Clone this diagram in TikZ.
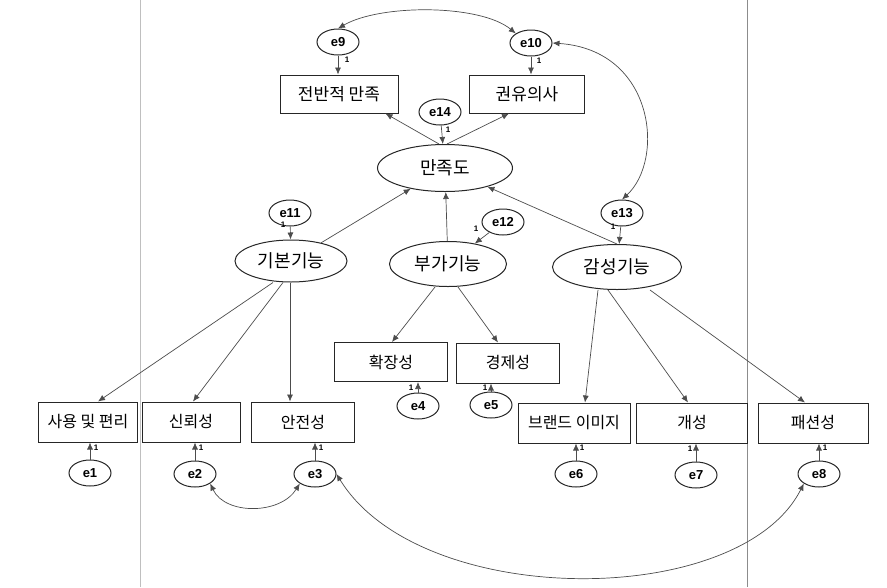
\documentclass[tikz,border=0pt]{standalone}
\usepackage{fontspec}
\setmainfont{Noto Sans CJK KR}
\newfontfamily\efont{Liberation Sans}
\usetikzlibrary{arrows.meta,shapes.geometric}
\begin{document}
\begin{tikzpicture}[x=1pt,y=-1pt,
  obs/.style={draw=black!85, line width=1pt, minimum height=38pt, inner sep=2pt, font=\fontsize{16}{18}\selectfont},
  lat/.style={ellipse, draw=black!85, line width=1pt, inner sep=0pt, font=\fontsize{18}{20}\selectfont},
  err/.style={ellipse, draw=black!85, line width=1pt, inner sep=0pt, minimum width=42pt, minimum height=26pt, font=\efont\bfseries\fontsize{13}{14}\selectfont},
  arr/.style={-{Latex[length=7pt,width=6pt]}, draw=black!70, line width=0.7pt},
  cov/.style={{Latex[length=7pt,width=6pt]}-{Latex[length=7pt,width=6pt]}, draw=black!70, line width=0.7pt},
  one/.style={font=\efont\bfseries\fontsize{8}{8}\selectfont, inner sep=0pt},
  scanline/.style={draw=black!45, line width=0.6pt}]
\useasboundingbox (0,0) rectangle (887,587);
% scan lines
\coordinate (s1t) at (140,0); \coordinate (s1b) at (140,587);
\coordinate (s2t) at (747,0); \coordinate (s2b) at (747,587);
\draw[scanline, draw=black!25] (s1t) -- (s1b);
\draw[scanline] (s2t) -- (s2b);

% top
\node[obs, minimum width=118pt, font=\fontsize{17}{19}\selectfont] (q1) at (339,94) {전반적 만족};
\node[obs, minimum width=115pt, font=\fontsize{17}{19}\selectfont] (q2) at (527,94) {권유의사};
\node[lat, minimum width=135pt, minimum height=47pt] (sat) at (445,168) {만족도};
\node[err] (e9) at (338,42) {e9};
\node[err] (e10) at (531,43) {e10};
\node[err] (e14) at (440,112) {e14};

% latent factors
\node[err] (e11) at (290,213) {e11};
\node[err] (e12) at (503,222) {e12};
\node[err] (e13) at (622,213) {e13};
\node[lat, minimum width=112pt, minimum height=42pt] (f1) at (291,261) {기본기능};
\node[lat, minimum width=117pt, minimum height=45pt] (f2) at (448,264) {부가기능};
\node[lat, minimum width=129pt, minimum height=45pt] (f3) at (617,267) {감성기능};

% indicators
\node[obs, minimum width=99pt, minimum height=40pt] (b1) at (88,422) {사용 및 편리};
\node[obs, minimum width=98pt, minimum height=40pt] (b2) at (191,422) {신뢰성};
\node[obs, minimum width=103pt, minimum height=40pt] (b3) at (303,422) {안전성};
\node[obs, minimum width=113pt, minimum height=39pt] (b4) at (391,362) {확장성};
\node[obs, minimum width=103pt, minimum height=40pt] (b5) at (508,363) {경제성};
\node[obs, minimum width=112pt, minimum height=40pt] (b6) at (574,423) {브랜드 이미지};
\node[obs, minimum width=111pt, minimum height=40pt] (b7) at (692,423) {개성};
\node[obs, minimum width=110pt, minimum height=40pt] (b8) at (813,423) {패션성};

% indicator errors
\node[err] (e1) at (90,473) {e1};
\node[err] (e2) at (195,474) {e2};
\node[err] (e3) at (315,474) {e3};
\node[err] (e4) at (418,406) {e4};
\node[err] (e5) at (491,405) {e5};
\node[err] (e6) at (576,474) {e6};
\node[err] (e7) at (696,475) {e7};
\node[err] (e8) at (819,474) {e8};

% error arrows (top)
\draw[arr] (e9) -- (e9 |- q1.north);
\draw[arr] (e10) -- (e10 |- q2.north);
\draw[arr] (e14) -- (sat);
\draw[arr] (e11) -- (f1);
\draw[arr] (e12) -- (f2);
\draw[arr] (e13) -- (f3);

% satisfaction -> items
\draw[arr] ([xshift=-6pt]sat.north) -- ([xshift=-13pt]q1.south east);
\draw[arr] ([xshift=2pt]sat.north) -- ([xshift=40pt]q2.south west);

% factors -> satisfaction
\draw[arr] (f1) -- (sat);
\draw[arr] (f2) -- (sat);
\draw[arr] (f3.north) -- (sat);

% factors -> indicators
\draw[arr] ([xshift=-18pt]f1.south) -- ([xshift=10pt]b1.north);
\draw[arr] ([xshift=-8pt]f1.south) -- ([xshift=2pt]b2.north);
\draw[arr] ([xshift=-1pt]f1.south) -- ([xshift=-13pt]b3.north);
\draw[arr] ([xshift=-13pt]f2.south) -- ([xshift=1pt]b4.north);
\draw[arr] ([xshift=10pt]f2.south) -- ([xshift=-10pt]b5.north);
\draw[arr] ([xshift=-19pt]f3.south) -- ([xshift=11pt]b6.north);
\draw[arr] ([xshift=-9pt]f3.south) -- ([xshift=-4pt]b7.north);
\draw[arr] ([xshift=33pt]f3.south) -- ([xshift=-8pt]b8.north);

% error arrows (indicators)
\draw[arr] (e1) -- (e1 |- b1.south);
\draw[arr] (e2) -- (e2 |- b2.south);
\draw[arr] (e3) -- (e3 |- b3.south);
\draw[arr] (e4) -- (e4 |- b4.south);
\draw[arr] (e5) -- (e5 |- b5.south);
\draw[arr] (e6) -- (e6 |- b6.south);
\draw[arr] (e7) -- (e7 |- b7.south);
\draw[arr] (e8) -- (e8 |- b8.south);

% covariances
\draw[cov] (e9.north) .. controls (380,4) and (480,4) .. (e10.north west);
\draw[cov] (e10.east) .. controls (655,50) and (665,160) .. (e13.north);
\draw[cov] (e2.south east) .. controls (225,515) and (280,515) .. (e3.south west);
\draw[cov] (e3.east) .. controls (420,610) and (740,610) .. (e8.south west);

% fixed loadings "1"
\node[one] (o9) at (347,60) {1};
\node[one] (o10) at (539,61) {1};
\node[one] (o14) at (448,130) {1};
\node[one] (o11) at (283,225) {1};
\node[one] (o12) at (476,229) {1};
\node[one] (o13) at (613,227) {1};
\node[one] (o1) at (96,448) {1};
\node[one] (o2) at (201,448) {1};
\node[one] (o3) at (321,448) {1};
\node[one] (o4) at (411,388) {1};
\node[one] (o5) at (485,388) {1};
\node[one] (o6) at (582,448) {1};
\node[one] (o7) at (690,449) {1};
\node[one] (o8) at (825,448) {1};
\end{tikzpicture}
\end{document}
